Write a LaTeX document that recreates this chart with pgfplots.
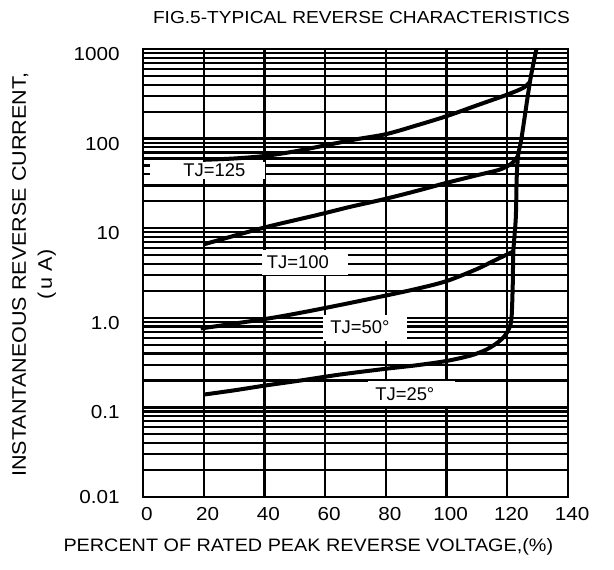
\documentclass[border=0pt]{standalone}
\usepackage{fontspec}
\setmainfont{Liberation Sans}
\newfontfamily\widefont[FakeStretch=1.1]{Liberation Sans}
\usepackage{pgfplots}
\pgfplotsset{compat=1.18}

% reverse current (uA) vs percent of rated peak reverse voltage
\pgfplotstableread{
x y
20 0.139
30 0.155
40 0.175
52 0.200
65 0.233
80 0.270
90 0.295
100 0.330
108 0.380
113 0.440
116.5 0.520
119 0.620
120.6 0.760
121.4 1.00
121.8 2.36
122.0 5.5
122.8 13
123.1 36.5
123.6 66
124.7 102
127.5 438
129.6 1000
}\tjA
\pgfplotstableread{
x y
19 0.76
40.2 0.97
52 1.14
64.9 1.39
79.2 1.75
90 2.10
100 2.57
110 3.50
115.4 4.30
122 5.5
}\tjB
\pgfplotstableread{
x y
20 6.6
39.6 10.1
57.2 14.0
68.2 17.3
79.2 21.0
90 26
100 32.1
110 39
117.6 45.2
121.5 53
123.5 64
}\tjC
\pgfplotstableread{
x y
20 58
30 60
40 64
50 72
60 84
70 98
80 112
90 140
100 178
110 235
120 310
125.3 369
127.5 430
}\tjD

\begin{document}
\begin{tikzpicture}
\path[use as bounding box] (-71.5pt,-36pt) rectangle (235.5pt,248.5pt);
\begin{axis}[
    at={(0,0)}, anchor=south west,
    scale only axis,
    width=212.5pt, height=224pt,
    xmin=0, xmax=140,
    ymode=log, ymin=0.01, ymax=1000,
    xtick={0,20,40,60,80,100,120,140},
    xticklabels={0,20,40,60,80,100,120,140},
    ytick={0.01,0.1,1,10,100,1000},
    yticklabels={\raisebox{5pt}{0.01},0.1,1.0,10,100,1000},
    minor ytick={0.02,0.03,0.04,0.05,0.06,0.07,0.08,0.09,
                 0.2,0.3,0.4,0.5,0.6,0.7,0.8,0.9,
                 2,3,4,5,6,7,8,9,
                 20,30,40,50,60,70,80,90,
                 200,300,400,500,600,700,800,900},
    grid=both,
    major grid style={black, line width=1.2pt},
    minor grid style={black, line width=1.1pt},
    axis line style={black, line width=1.3pt},
    major tick length=0pt, minor tick length=0pt,
    xticklabel style={font=\widefont\fontsize{9.4}{11}\selectfont, anchor=north, inner sep=0pt, yshift=-5pt, xshift=2pt},
    yticklabel style={font=\widefont\fontsize{9.4}{11}\selectfont, anchor=east, inner sep=0pt, xshift=-11.5pt, yshift=-2.5pt},
    every axis title shift=0pt,
    title={FIG.5-TYPICAL REVERSE CHARACTERISTICS},
    title style={at={(axis description cs:0.514,1.058)}, anchor=base, inner sep=0pt, font=\widefont\fontsize{8.7}{10}\selectfont},
    xlabel={PERCENT OF RATED PEAK REVERSE VOLTAGE,(\%)},
    xlabel style={at={(axis description cs:0.389,-0.1116)}, anchor=center, font=\widefont\fontsize{9}{10}\selectfont},
    ylabel={INSTANTANEOUS REVERSE CURRENT,\\(\,u A)},
    ylabel style={at={(axis description cs:-0.2565,0.496)}, anchor=center, align=center, font=\widefont\fontsize{9.8}{13}\selectfont},
]
% white label boxes
\fill[white] (axis cs:2.3,55.1) rectangle (axis cs:40.2,35.6);
\fill[white] (axis cs:39.1,5.78) rectangle (axis cs:67.6,3.04);
\fill[white] (axis cs:59.4,1.088) rectangle (axis cs:87.1,0.558);
\fill[white] (axis cs:74.2,0.1966) rectangle (axis cs:102.8,0.1035);
\node[anchor=west, inner sep=0pt, font=\fontsize{9.2}{11}\selectfont] at (axis cs:13.2,44.9) {TJ=125};
\node[anchor=west, inner sep=0pt, font=\fontsize{9.2}{11}\selectfont] at (axis cs:40.7,4.22) {TJ=100};
\node[anchor=west, inner sep=0pt, font=\fontsize{9.2}{11}\selectfont] at (axis cs:61.6,0.78) {TJ=50°};
\node[anchor=west, inner sep=0pt, font=\fontsize{9.2}{11}\selectfont] at (axis cs:76.4,0.142) {TJ=25°};

\addplot[black, line width=2pt, smooth] table[x=x,y=y] {\tjA};
\addplot[black, line width=2pt, smooth] table[x=x,y=y] {\tjB};
\addplot[black, line width=2pt, smooth] table[x=x,y=y] {\tjC};
\addplot[black, line width=2pt, smooth] table[x=x,y=y] {\tjD};
\end{axis}
\end{tikzpicture}
\end{document}
